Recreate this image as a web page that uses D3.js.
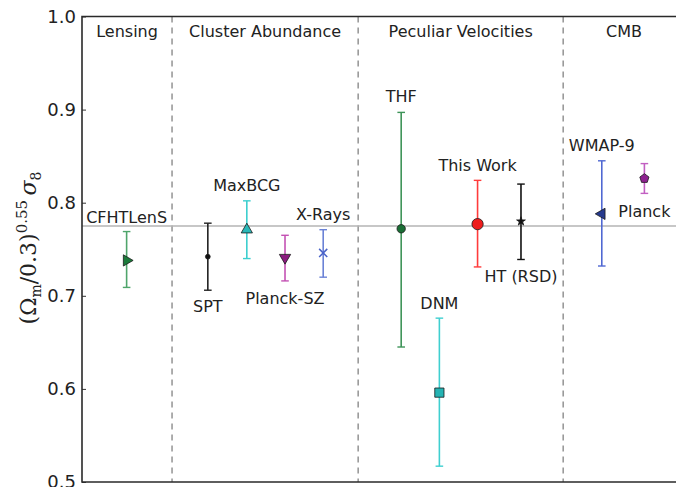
<!DOCTYPE html>
<html>
<head>
<meta charset="utf-8">
<script src="https://cdn.jsdelivr.net/npm/d3@7"></script>
<style>
  body { margin: 0; background: #fff; }
  svg { display: block; }
</style>
</head>
<body>
<script>
// canvas and plot box
var canvasX = 676;
var canvasY = 487;
var left = 82;
var right = 685;
var top_ = 16.5;
var bottom = 482;

var names = ["CFHTLenS", "SPT", "MaxBCG", "Planck-SZ", "X-Rays", "THF", "DNM", "This Work", "HT (RSD)", "WMAP-9", "Planck"];
var xPos = [1.11, 3.13, 4.10, 5.05, 6.00, 7.94, 8.89, 9.84, 10.92, 12.93, 13.99];
var values = [0.738, 0.742, 0.771, 0.741, 0.746, 0.772, 0.596, 0.777, 0.780, 0.788, 0.826];
var upper = [0.769, 0.778, 0.802, 0.765, 0.771, 0.897, 0.676, 0.824, 0.820, 0.845, 0.842];
var lower = [0.709, 0.706, 0.740, 0.716, 0.720, 0.645, 0.517, 0.731, 0.739, 0.732, 0.810];

// where each name is written (y in data units)
var labelY = [0.778, 0.683, 0.813, 0.691, 0.781, 0.908, 0.686, 0.834, 0.715, 0.855, 0.785];

// probe groups and the x limits between them
var sections = ["Lensing", "Cluster Abundance", "Peculiar Velocities", "CMB"];
var sectionBounds = [0, 2.24, 6.87, 11.97, 15];

// axis ticks and reference value
var yTicks = [0.5, 0.6, 0.7, 0.8, 0.9, 1.0];
var fiducial = 0.775;

// styles per point
var barColors = ["#4fa56b", "#222222", "#3ccfcf", "#c452b4", "#6b82d6", "#3e9459", "#3fcfd0", "#ff3b3b", "#111111", "#5068d2", "#c25fc2"];
var markColors = ["#1b7a3a", "#111111", "#2ab8b8", "#8c1c80", "#4a63c8", "#1a6e35", "#25b3b3", "#ee1c1c", "#111111", "#263a8e", "#8e2290"];
var markShapes = ["triRight", "dot", "triUp", "triDown", "x", "circle", "square", "bigCircle", "star", "triLeft", "pentagon"];

window.onload = function() {

    var svg = d3.select("body")
                .append("svg")
                .attr("width", canvasX)
                .attr("height", canvasY);

    var scaleX = d3.scaleLinear().domain([0, 15]).range([left, right]);
    var scaleY = d3.scaleLinear().domain([0.5, 1.0]).range([bottom, top_]);

    drawFrame(svg, scaleX, scaleY);
    drawPoints(svg, scaleX, scaleY);
    drawYLabel(svg);
};

// function for frame, ticks, separators and headers
function drawFrame(svg, scaleX, scaleY) {

    // dashed separators
    svg.selectAll(".sep")
       .data(sectionBounds.slice(1, sectionBounds.length - 1))
       .enter().append("line")
       .attr("x1", function(d) { return scaleX(d); })
       .attr("x2", function(d) { return scaleX(d); })
       .attr("y1", scaleY(1.0))
       .attr("y2", scaleY(0.5))
       .attr("stroke", "#9a9a9a")
       .attr("stroke-width", 1.6)
       .attr("stroke-dasharray", "6,5");

    // section headers
    svg.selectAll(".head")
       .data(sections)
       .enter().append("text")
       .attr("x", function(d, i) { return scaleX((sectionBounds[i] + sectionBounds[i + 1]) / 2); })
       .attr("y", top_ + 20)
       .attr("text-anchor", "middle")
       .style("font-family", "DejaVu Sans")
       .style("font-size", "16px")
       .style("fill", "#222")
       .text(function(d) { return d; });

    // fiducial line
    svg.append("line")
       .attr("x1", scaleX(0))
       .attr("x2", scaleX(15))
       .attr("y1", scaleY(fiducial))
       .attr("y2", scaleY(fiducial))
       .attr("stroke", "#b4b4b4")
       .attr("stroke-width", 1.6);

    // y axis
    var yAxis = d3.axisLeft(scaleY)
                  .tickValues(yTicks)
                  .tickFormat(d3.format(".1f"))
                  .tickSizeInner(-4)
                  .tickSizeOuter(0)
                  .tickPadding(6);

    var g = svg.append("g")
               .attr("transform", "translate(" + left + ",0)")
               .call(yAxis);
    g.select(".domain").remove();
    g.selectAll("line").attr("stroke", "#333");
    g.selectAll("text")
     .style("font-family", "DejaVu Sans")
     .style("font-size", "18px")
     .style("fill", "#222");

    // box lines (right side is outside the picture)
    svg.append("path")
       .attr("d", "M" + scaleX(15) + "," + scaleY(1.0) + "H" + left + "V" + scaleY(0.5) + "H" + scaleX(15))
       .attr("fill", "none")
       .attr("stroke", "#2a2a2a")
       .attr("stroke-width", 1.6);
}

// custom pentagon symbol
var symbolPentagon = {
    draw: function(context, size) {
        var r = Math.sqrt(size / 2.378);
        for (var i = 0; i < 5; i++) {
            var a = -Math.PI / 2 + i * 2 * Math.PI / 5;
            if (i == 0) context.moveTo(r * Math.cos(a), r * Math.sin(a));
            else context.lineTo(r * Math.cos(a), r * Math.sin(a));
        }
        context.closePath();
    }
};

// function to get the marker path and rotation
function markerPath(shape) {
    var sym = d3.symbol();
    if (shape == "triRight" || shape == "triUp" || shape == "triDown" || shape == "triLeft") {
        return sym.type(d3.symbolTriangle).size(55)();
    }
    if (shape == "dot") return sym.type(d3.symbolCircle).size(18)();
    if (shape == "circle") return sym.type(d3.symbolCircle).size(55)();
    if (shape == "bigCircle") return sym.type(d3.symbolCircle).size(100)();
    if (shape == "square") return sym.type(d3.symbolSquare).size(85)();
    if (shape == "star") return sym.type(d3.symbolStar).size(24)();
    if (shape == "x") return sym.type(d3.symbolTimes).size(45)();
    return sym.type(symbolPentagon).size(55)();
}

function markerAngle(shape) {
    if (shape == "triRight") return 90;
    if (shape == "triDown") return 180;
    if (shape == "triLeft") return -90;
    return 0;
}

// function for error bars, markers and names
function drawPoints(svg, scaleX, scaleY) {

    var idx = d3.range(names.length);
    var cap = 3.8;

    var pts = svg.selectAll(".pt")
                 .data(idx)
                 .enter().append("g")
                 .attr("class", "pt");

    // vertical bar
    pts.append("line")
       .attr("x1", function(i) { return scaleX(xPos[i]); })
       .attr("x2", function(i) { return scaleX(xPos[i]); })
       .attr("y1", function(i) { return scaleY(upper[i]); })
       .attr("y2", function(i) { return scaleY(lower[i]); })
       .attr("stroke", function(i) { return barColors[i]; })
       .attr("stroke-width", 1.6);

    // caps
    [upper, lower].forEach(function(arr) {
        pts.append("line")
           .attr("x1", function(i) { return scaleX(xPos[i]) - cap; })
           .attr("x2", function(i) { return scaleX(xPos[i]) + cap; })
           .attr("y1", function(i) { return scaleY(arr[i]); })
           .attr("y2", function(i) { return scaleY(arr[i]); })
           .attr("stroke", function(i) { return barColors[i]; })
           .attr("stroke-width", 1.4);
    });

    // markers
    pts.append("path")
       .attr("d", function(i) { return markerPath(markShapes[i]); })
       .attr("transform", function(i) {
           return "translate(" + scaleX(xPos[i]) + "," + scaleY(values[i]) + ") rotate(" + markerAngle(markShapes[i]) + ")";
       })
       .attr("fill", function(i) { return markShapes[i] == "x" ? "none" : markColors[i]; })
       .attr("stroke", function(i) { return markShapes[i] == "x" ? markColors[i] : "#1a1a1a"; })
       .attr("stroke-width", function(i) { return markShapes[i] == "x" ? 1.5 : 0.8; });

    // names
    pts.append("text")
       .attr("x", function(i) { return scaleX(xPos[i]); })
       .attr("y", function(i) { return scaleY(labelY[i]); })
       .attr("text-anchor", "middle")
       .style("font-family", "DejaVu Sans")
       .style("font-size", "16px")
       .style("fill", "#222")
       .text(function(i) { return names[i]; });
}

// function for rotated y axis label
function drawYLabel(svg) {
    var t = svg.append("text")
               .attr("transform", "translate(36,248) rotate(-90)")
               .attr("text-anchor", "middle")
               .style("font-family", "DejaVu Serif")
               .style("font-size", "22px")
               .style("fill", "#222");

    t.append("tspan").text("(Ω");
    t.append("tspan").attr("dy", 5).style("font-size", "14px").text("m");
    t.append("tspan").attr("dy", -5).text("/0.3)");
    t.append("tspan").attr("dy", -9).style("font-size", "15px").text("0.55");
    t.append("tspan").attr("dy", 9).style("font-style", "italic").text("\u2009σ");
    t.append("tspan").attr("dy", 5).style("font-size", "14px").text("8");
}
</script>
</body>
</html>
